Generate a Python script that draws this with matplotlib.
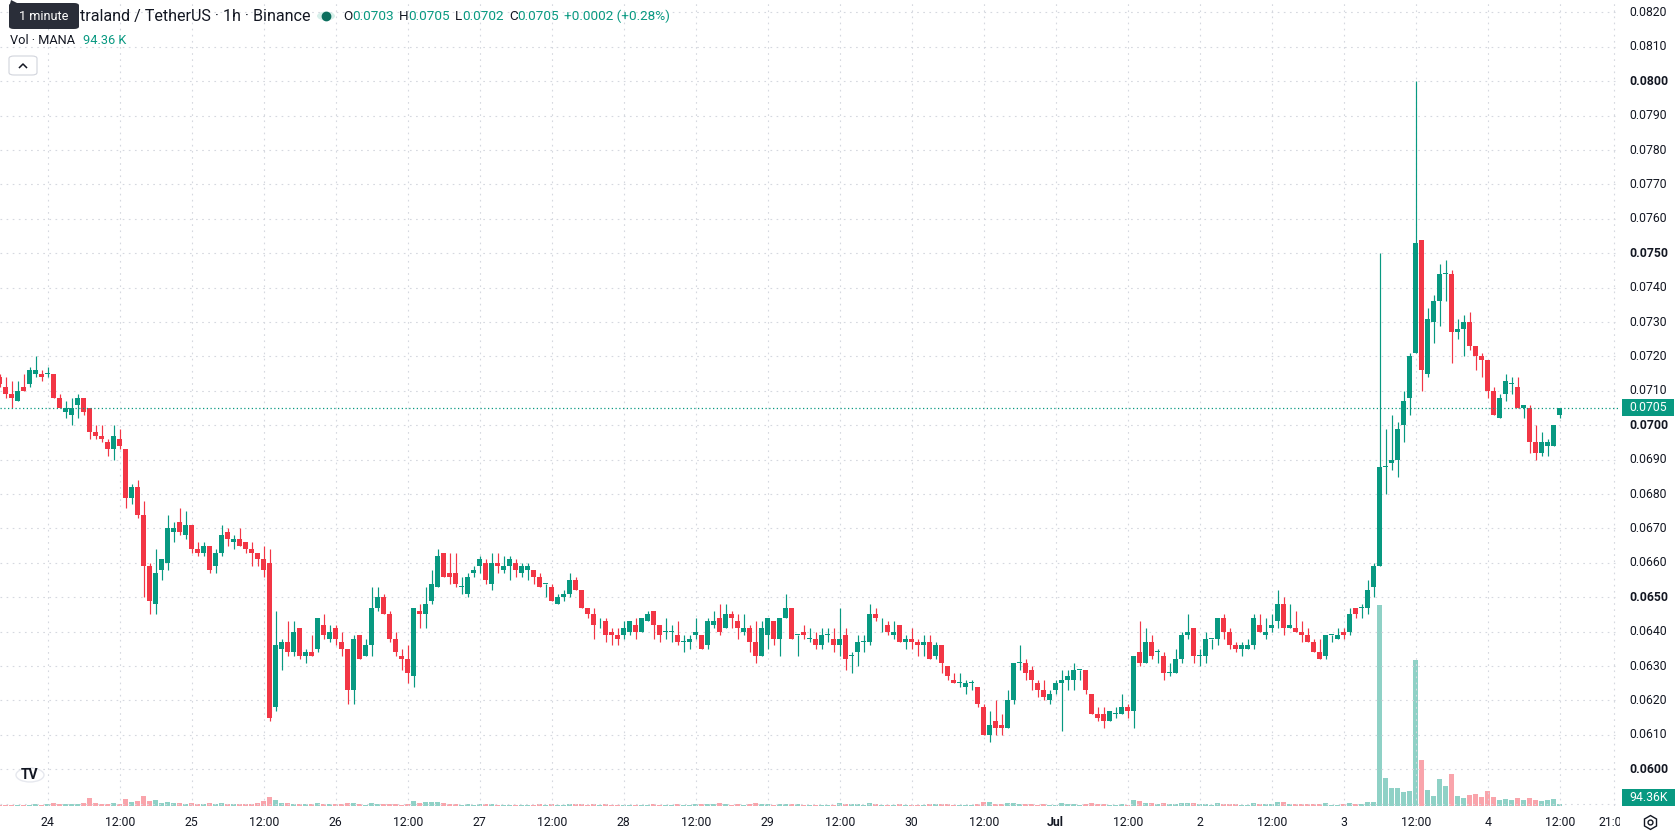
import matplotlib

matplotlib.use("Agg")
import matplotlib.pyplot as plt
import matplotlib.transforms as mtransforms
from matplotlib.lines import Line2D
from matplotlib.patches import Circle, FancyBboxPatch, Polygon, Rectangle
import numpy as np
import pandas as pd

plt.rcParams["font.family"] = ["Roboto", "DejaVu Sans"]

W, H = 1678, 835
UP = "#089981"
DOWN = "#F23645"
TEXT = "#131722"
GRID = "#d5d8df"

# hourly candles, Jun 23 16:00 -> Jul 4 12:00, prices in units of 0.0001
START = "2020-06-23 16:00"
TICK = 0.0001
open_t = [
    714, 711, 709, 707, 711, 712, 715, 715,
    715, 715, 708, 704, 703, 706, 708, 705, 698, 697, 695, 693, 696, 693, 679, 682, 674, 659, 648, 658, 660, 669, 672, 668,
    671, 664, 663, 665, 659, 663, 669, 666, 667, 666, 664, 663, 661, 660, 618, 635, 637, 634, 641, 633, 634, 635, 642, 638,
    641, 637, 635, 623, 639, 633, 636, 647, 650, 645, 638, 633, 632, 627, 646, 645, 649, 653, 663, 657, 657, 653, 651, 657,
    659, 660, 654, 660, 658, 659, 660, 657, 658, 658, 656, 654, 653, 648, 650, 651, 655, 652, 647, 645, 643, 643, 640, 639,
    639, 640, 642, 640, 643, 646, 642, 640, 640, 639, 637, 637, 639, 639, 636, 642, 644, 641, 645, 643, 640, 641, 637, 633,
    639, 643, 638, 644, 647, 639, 640, 638, 638, 636, 639, 638, 636, 639, 633, 634, 637, 637, 645, 643, 642, 639, 642, 637,
    638, 637, 636, 637, 633, 636, 630, 626, 625, 624, 625, 624, 618, 610, 614, 613, 612, 620, 631, 631, 629, 625, 623, 620,
    623, 625, 626, 626, 629, 629, 622, 616, 616, 614, 616, 616, 618, 617, 634, 631, 637, 634, 633, 628, 628, 632, 639, 641,
    633, 633, 638, 638, 644, 640, 636, 635, 635, 636, 642, 639, 641, 643, 648, 641, 641, 640, 639, 637, 634, 633, 639, 638,
    640, 640, 647, 647, 647, 653, 659, 688, 689, 690, 700, 708, 721, 754, 715, 730, 736, 744, 744, 727, 728, 730, 723, 720,
    719, 710, 702, 709, 712, 711, 705, 705, 695, 692, 694, 694, 703,
]
high_t = [
    715, 714, 713, 713, 715, 717, 720, 716,
    717, 715, 709, 707, 708, 709, 708, 705, 700, 700, 696, 700, 699, 693, 683, 684, 678, 660, 664, 661, 674, 672, 676, 675,
    671, 666, 666, 665, 664, 671, 670, 668, 670, 666, 666, 663, 665, 664, 646, 638, 643, 643, 641, 635, 639, 644, 645, 642,
    642, 640, 635, 639, 639, 638, 653, 653, 651, 646, 640, 635, 636, 647, 648, 653, 658, 664, 663, 663, 663, 656, 657, 659,
    662, 661, 663, 663, 662, 662, 661, 660, 660, 658, 657, 654, 654, 651, 652, 657, 656, 652, 647, 647, 644, 644, 641, 641,
    643, 643, 644, 644, 646, 646, 642, 644, 642, 643, 639, 639, 644, 639, 644, 646, 648, 648, 646, 645, 645, 642, 643, 643,
    644, 643, 644, 651, 647, 639, 642, 641, 640, 641, 641, 641, 647, 641, 634, 639, 639, 648, 647, 644, 643, 643, 642, 639,
    641, 638, 639, 639, 637, 636, 630, 628, 628, 626, 626, 624, 619, 617, 620, 616, 623, 631, 636, 632, 630, 626, 626, 623,
    626, 629, 629, 631, 629, 629, 622, 618, 618, 617, 618, 622, 619, 633, 643, 641, 639, 635, 634, 631, 635, 640, 645, 641,
    635, 640, 638, 644, 645, 641, 637, 637, 638, 645, 645, 644, 645, 652, 650, 648, 646, 643, 641, 638, 638, 639, 639, 641,
    641, 647, 647, 648, 655, 660, 750, 699, 703, 701, 710, 721, 800, 754, 734, 738, 747, 748, 745, 731, 732, 733, 723, 721,
    719, 711, 709, 715, 714, 714, 706, 706, 700, 698, 696, 700, 705,
]
low_t = [
    711, 708, 705, 707, 710, 711, 714, 713,
    714, 708, 705, 702, 700, 702, 703, 696, 696, 695, 691, 690, 693, 676, 677, 673, 650, 645, 645, 655, 658, 666, 668, 667,
    663, 662, 662, 657, 657, 662, 665, 664, 665, 663, 659, 659, 656, 614, 617, 629, 633, 633, 632, 631, 633, 634, 638, 637,
    636, 633, 619, 619, 632, 633, 633, 646, 645, 637, 633, 629, 625, 624, 641, 641, 648, 653, 656, 654, 653, 651, 650, 656,
    657, 654, 652, 657, 657, 655, 656, 656, 655, 654, 653, 650, 649, 648, 649, 650, 652, 647, 644, 638, 641, 637, 636, 636,
    638, 639, 638, 640, 643, 638, 637, 638, 637, 636, 634, 635, 638, 635, 635, 641, 639, 641, 641, 638, 639, 634, 631, 633,
    635, 636, 633, 644, 638, 633, 638, 637, 635, 635, 637, 634, 633, 629, 628, 630, 634, 636, 643, 640, 639, 638, 637, 635,
    635, 633, 633, 632, 632, 628, 626, 625, 624, 622, 623, 618, 610, 608, 610, 610, 612, 619, 629, 626, 623, 621, 620, 619,
    622, 611, 623, 623, 626, 622, 616, 614, 612, 614, 615, 616, 615, 612, 630, 631, 632, 631, 626, 627, 628, 631, 638, 631,
    630, 631, 635, 636, 638, 635, 634, 633, 635, 635, 640, 638, 640, 641, 639, 641, 640, 637, 637, 634, 632, 632, 637, 638,
    638, 639, 644, 644, 645, 650, 659, 680, 687, 685, 695, 703, 721, 710, 714, 724, 729, 736, 718, 725, 720, 722, 716, 714,
    708, 703, 702, 707, 709, 705, 702, 692, 690, 691, 691, 694, 702,
]
close_t = [
    712, 709, 708, 710, 710, 716, 716, 714,
    715, 708, 705, 705, 705, 708, 704, 698, 697, 696, 693, 697, 694, 679, 682, 674, 659, 649, 657, 661, 670, 670, 669, 671,
    664, 663, 665, 658, 663, 668, 667, 667, 665, 664, 663, 661, 658, 615, 636, 637, 634, 640, 633, 634, 633, 644, 639, 640,
    638, 635, 623, 638, 632, 636, 647, 650, 645, 638, 634, 632, 628, 647, 645, 648, 654, 662, 656, 656, 654, 653, 656, 658,
    661, 655, 660, 659, 659, 661, 658, 659, 659, 656, 653, 654, 649, 650, 651, 655, 652, 647, 645, 642, 643, 639, 639, 638,
    641, 643, 640, 644, 645, 642, 639, 640, 640, 637, 637, 638, 640, 635, 643, 643, 640, 645, 644, 641, 641, 637, 633, 641,
    644, 638, 644, 647, 638, 639, 639, 638, 636, 639, 639, 636, 638, 632, 633, 637, 637, 645, 644, 643, 640, 640, 637, 638,
    637, 636, 637, 632, 636, 631, 627, 625, 625, 625, 625, 619, 610, 613, 612, 612, 620, 631, 631, 628, 626, 623, 621, 622,
    625, 626, 627, 629, 629, 623, 616, 615, 614, 617, 616, 618, 617, 633, 631, 637, 633, 634, 628, 628, 632, 639, 640, 633,
    633, 638, 638, 644, 640, 636, 635, 636, 636, 644, 640, 640, 642, 648, 641, 642, 640, 639, 637, 634, 632, 639, 639, 639,
    639, 645, 645, 647, 652, 659, 688, 688, 690, 699, 707, 720, 753, 716, 731, 736, 744, 744, 727, 728, 730, 723, 720, 719,
    710, 703, 708, 713, 712, 705, 706, 695, 692, 695, 695, 700, 705,
]
# volume in thousands of MANA
volume_k = [
    60, 50, 60, 50, 40, 70, 90, 60,
    80, 140, 100, 90, 110, 80, 120, 390, 120, 100, 90, 130, 110, 310, 200, 250, 450, 220, 260, 150, 180, 120, 140, 110,
    150, 90, 90, 120, 110, 140, 90, 80, 90, 80, 110, 120, 230, 420, 280, 140, 130, 100, 110, 80, 90, 120, 90, 80,
    90, 80, 160, 130, 90, 70, 150, 110, 90, 100, 90, 70, 100, 220, 150, 200, 170, 180, 140, 100, 110, 70, 90, 60,
    80, 90, 110, 70, 60, 70, 60, 50, 60, 70, 80, 60, 100, 70, 60, 80, 90, 100, 70, 110, 50, 80, 60, 60,
    70, 60, 60, 70, 60, 80, 70, 60, 50, 80, 60, 50, 90, 110, 100, 80, 160, 90, 70, 80, 60, 90, 130, 100,
    80, 70, 90, 110, 100, 80, 60, 50, 60, 70, 50, 60, 130, 110, 90, 80, 60, 120, 80, 60, 70, 60, 80, 60,
    70, 60, 70, 90, 80, 100, 110, 70, 60, 60, 50, 100, 180, 170, 110, 80, 120, 150, 110, 90, 100, 70, 80, 60,
    70, 130, 80, 90, 60, 90, 130, 80, 90, 70, 60, 80, 70, 260, 230, 150, 130, 100, 120, 80, 90, 140, 150, 130,
    90, 110, 70, 130, 110, 100, 80, 70, 60, 140, 110, 80, 90, 190, 170, 100, 110, 90, 80, 90, 110, 130, 60, 70,
    80, 150, 100, 90, 170, 200, 9450, 1320, 830, 830, 650, 720, 6860, 2160, 750, 470, 1260, 940, 1500, 470, 380, 510, 560, 410,
    690, 440, 280, 350, 300, 360, 280, 380, 280, 230, 260, 320, 94.36,
]

X_TICKS = [0, 12, 24, 36, 48, 60, 72, 84, 96, 108, 120, 132, 144, 156, 168, 180, 192, 204, 216, 228, 240, 252, 261]
X_LABELS = ["24", "12:00", "25", "12:00", "26", "12:00", "27", "12:00", "28", "12:00", "29", "12:00",
            "30", "12:00", "Jul", "12:00", "2", "12:00", "3", "12:00", "4", "12:00", "21:00"]
PRICE_TICKS = [round(0.0600 + 0.001 * i, 4) for i in range(23)]
BOLD_PRICES = {0.0600, 0.0650, 0.0700, 0.0750, 0.0800}
LAST_PRICE = 0.0705

o = np.array(open_t) * TICK
h = np.array(high_t) * TICK
l = np.array(low_t) * TICK
c = np.array(close_t) * TICK
vol = np.array(volume_k)
times = pd.date_range(START, periods=len(o), freq="h")
x = ((times - pd.Timestamp("2020-06-24")) / pd.Timedelta(hours=1)).to_numpy()
up = c >= o
colors = np.where(up, UP, DOWN)

PANE_R, PANE_B = 1619, 806


def fx(px):
    return px / W


def fy(py):
    return 1 - py / H


fig = plt.figure(figsize=(W / 100, H / 100), dpi=100)
fig.patch.set_facecolor("white")
rect = [0, (H - PANE_B) / H, PANE_R / W, PANE_B / H]
ax_v = fig.add_axes(rect)
ax = fig.add_axes(rect, sharex=ax_v)
ax.patch.set_visible(False)
for a in (ax, ax_v):
    a.set_axis_off()

ax.set_xlim(-7.95, -7.95 + PANE_R / 6.0)
ax.set_ylim(0.058933, 0.082363)
ax_v.set_ylim(0, 37900)

# grid
for t in X_TICKS:
    ax.axvline(t, color=GRID, lw=0.8, linestyle=(0, (1.5, 4)), zorder=0)
for p in np.arange(0.059, 0.0825, 0.001):
    ax.axhline(p, color=GRID, lw=0.8, linestyle=(0, (1.5, 4)), zorder=0)

# volume
ax_v.bar(x, vol, width=0.76, color=np.where(up, UP, DOWN), alpha=0.45, linewidth=0)

# candles
ax.vlines(x, l, h, colors=colors, lw=0.85, zorder=2)
ax.bar(x, np.maximum(np.abs(c - o), 0.000025), bottom=np.minimum(o, c), width=0.76,
       color=colors, linewidth=0, zorder=3)

ax.axhline(LAST_PRICE, color=UP, lw=0.9, linestyle=(0, (1, 2)), zorder=4)

# price axis
ytrans = mtransforms.blended_transform_factory(ax.transAxes, ax.transData)
for p in PRICE_TICKS:
    ax.text(1629 / PANE_R, p, f"{p:.4f}", transform=ytrans, ha="left", va="center", fontsize=8.8,
            color=TEXT, fontweight="bold" if p in BOLD_PRICES else "normal", clip_on=False)

# time axis
xtrans = mtransforms.blended_transform_factory(ax.transData, ax.transAxes)
for t, lab in zip(X_TICKS, X_LABELS):
    ax.text(t, -(822 - PANE_B) / PANE_B, lab, transform=xtrans, ha="center", va="center", fontsize=8.8,
            color=TEXT, fontweight="bold" if lab == "Jul" else "normal", clip_on=False)

# cover the right-hand price scale strip at the time axis row
fig.add_artist(Rectangle((fx(PANE_R + 1), 0), 1 - fx(PANE_R + 1), (H - PANE_B - 1) / H,
                         transform=fig.transFigure, facecolor="white", edgecolor="none", zorder=5))

# last price and volume labels
fig.add_artist(Rectangle((fx(1622), fy(416)), fx(52), 17 / H, transform=fig.transFigure,
                         facecolor=UP, edgecolor="none", zorder=6))
fig.text(fx(1648), fy(407.5), "0.0705", color="white", fontsize=8.8, ha="center", va="center", zorder=7)
fig.add_artist(Rectangle((fx(1622), fy(806)), fx(53), 17 / H, transform=fig.transFigure,
                         facecolor=UP, edgecolor="none", zorder=6))
fig.text(fx(1648.5), fy(797.5), "94.36K", color="white", fontsize=8.8, ha="center", va="center", zorder=7)

# settings gear
fig.add_artist(Line2D([fx(1650)], [fy(822)], marker="h", markersize=10, markerfacecolor="white",
                      markeredgecolor=TEXT, markeredgewidth=1.0, transform=fig.transFigure, zorder=8))
fig.add_artist(Line2D([fx(1650)], [fy(822)], marker="o", markersize=3.5, markerfacecolor="white",
                      markeredgecolor=TEXT, markeredgewidth=1.0, transform=fig.transFigure, zorder=9))

# legend header
renderer = fig.canvas.get_renderer()


def put_pieces(px, py, pieces, size, gap=0):
    for s, col in pieces:
        t = fig.text(fx(px), fy(py), s, color=col, fontsize=size, ha="left", va="center", zorder=10)
        px += t.get_window_extent(renderer).width + gap
    return px


fig.text(fx(80), fy(16), "traland / TetherUS · 1h · Binance", color=TEXT, fontsize=11.6,
         ha="left", va="center", zorder=10)
fig.add_artist(Circle((fx(326), fy(16)), 9 / W, transform=fig.transFigure, facecolor="#d7efea",
                      edgecolor="none", zorder=10))
fig.add_artist(Line2D([fx(326)], [fy(16)], marker="o", markersize=6, color="#0b6e5d",
                      transform=fig.transFigure, zorder=11))
xx = 343
for letter, val in [("O", "0.0703"), ("H", "0.0705"), ("L", "0.0702"), ("C", "0.0705")]:
    xx = put_pieces(xx, 16, [(letter, TEXT), (val, UP)], 9.7)
    xx += 5
put_pieces(xx, 16, [("+0.0002 (+0.28%)", UP)], 9.7)

fig.text(fx(10), fy(40.5), "Vol · MANA", color=TEXT, fontsize=9.2, ha="left", va="center", zorder=10)
fig.text(fx(83), fy(40.5), "94.36 K", color=UP, fontsize=9.2, ha="left", va="center", zorder=10)

# tooltip over the start of the title
fig.add_artist(FancyBboxPatch((fx(9), fy(29)), fx(70), 26 / H, boxstyle="round,pad=0,rounding_size=0.003",
                              transform=fig.transFigure, facecolor="#2a2e39", edgecolor="none", zorder=12))
fig.add_artist(Polygon([[fx(9), fy(8)], [fx(11), fy(0)], [fx(17), fy(3)]], closed=True,
                       transform=fig.transFigure, facecolor="#2a2e39", edgecolor="none", zorder=12))
fig.text(fx(44), fy(16), "1 minute", color="white", fontsize=9.2, ha="center", va="center", zorder=13)

# collapse button
fig.add_artist(FancyBboxPatch((fx(9), fy(75)), fx(28), 19 / H, boxstyle="round,pad=0,rounding_size=0.003",
                              transform=fig.transFigure, facecolor="white", edgecolor="#d1d4dc", lw=0.8, zorder=10))
fig.add_artist(Line2D([fx(19.5), fx(23), fx(26.5)], [fy(67.5), fy(64), fy(67.5)], color=TEXT, lw=1.1,
                      transform=fig.transFigure, zorder=11))

# logo
fig.add_artist(Circle((fx(30), fy(775)), 14 / W, transform=fig.transFigure, facecolor="white",
                      edgecolor="#e6e8ee", lw=1.0, zorder=10))
fig.text(fx(30), fy(775), "TV", color=TEXT, fontsize=10, fontweight="bold", ha="center", va="center", zorder=11)

fig.savefig("out.png", dpi=100, facecolor="white")
